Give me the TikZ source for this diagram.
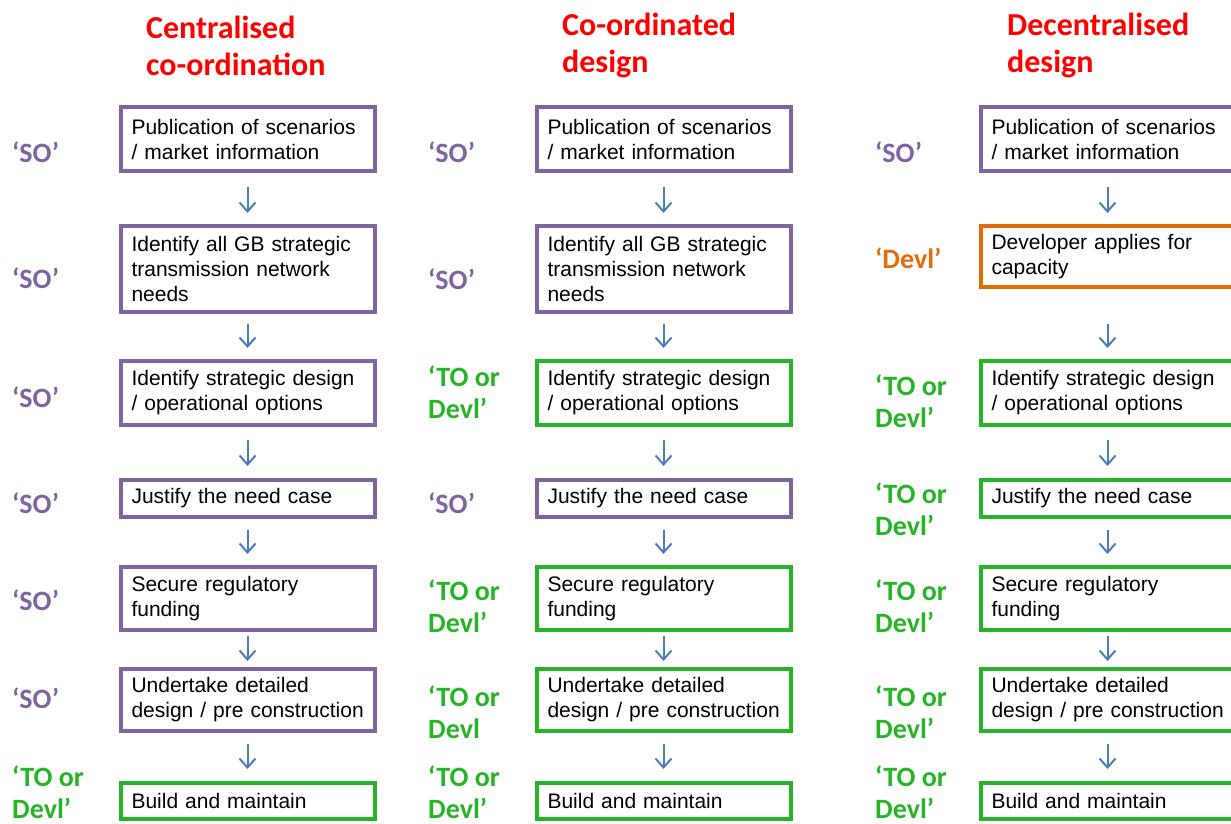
\documentclass[tikz,border=0pt]{standalone}
\usepackage{fontspec}
\setmainfont{Liberation Sans}
\newfontfamily\lblfont{Carlito}
\usetikzlibrary{arrows.meta}
\definecolor{sopurple}{HTML}{8064A2}
\definecolor{togreen}{HTML}{26B526}
\definecolor{devorange}{HTML}{E46C0A}
\definecolor{arrblue}{HTML}{4A7EBB}
\definecolor{titlered}{HTML}{FF0000}
\newcommand\flowarrow[4]{\draw[flow, shorten <=#3pt, shorten >=#4pt] (#1.south) -- (#2.north);}
\begin{document}
\begin{tikzpicture}[x=1pt,y=-1pt,
  box/.style={draw, line width=4pt, minimum width=254pt, text width=232pt, inner xsep=11pt, inner ysep=0pt, align=left, font=\fontsize{21}{25}\selectfont},
  sobox/.style={box, draw=sopurple},
  tobox/.style={box, draw=togreen},
  devbox/.style={box, draw=devorange},
  lbl/.style={anchor=west, inner sep=0pt, align=left, font=\lblfont\bfseries\fontsize{28}{32}\selectfont},
  solbl/.style={lbl, text=sopurple},
  tolbl/.style={lbl, text=togreen},
  devlbl/.style={lbl, text=devorange},
  title/.style={anchor=west, inner sep=0pt, align=left, text=titlered, font=\lblfont\bfseries\fontsize{32}{37}\selectfont},
  flow/.style={draw=arrblue, line width=2pt, -{Straight Barb[length=9pt,width=16pt]}}
]
\useasboundingbox (0,0) rectangle (1231,824);
\clip (0,0) rectangle (1231,824);

% titles
\node[title] (t1) at (146,45.5) {Centralised\\co-ordination};
\node[title] (t2) at (562,45.5) {Co-ordinated\\design};
\node[title] (t3) at (1007,45.5) {Decentralised\\design};

% column 1
\node[sobox, minimum height=64pt] (a1) at (247.5,139) {Publication of scenarios\\/ market information};
\node[sobox, minimum height=86pt] (a2) at (247.5,269) {Identify all GB strategic\\transmission network\\needs};
\node[sobox, minimum height=64pt] (a3) at (247.5,393) {Identify strategic design\\/ operational options};
\node[sobox, minimum height=37pt] (a4) at (247.5,498.5) {Justify the need case};
\node[sobox, minimum height=63pt] (a5) at (247.5,598.5) {Secure regulatory\\funding};
\node[sobox, minimum height=62pt] (a6) at (247.5,700) {Undertake detailed\\\mbox{design / pre construction}};
\node[tobox, minimum height=36pt] (a7) at (247.5,801) {Build and maintain};

% column 2
\node[sobox, minimum height=64pt] (b1) at (663.5,139) {Publication of scenarios\\/ market information};
\node[sobox, minimum height=86pt] (b2) at (663.5,269) {Identify all GB strategic\\transmission network\\needs};
\node[tobox, minimum height=64pt] (b3) at (663.5,393) {Identify strategic design\\/ operational options};
\node[sobox, minimum height=37pt] (b4) at (663.5,498.5) {Justify the need case};
\node[tobox, minimum height=63pt] (b5) at (663.5,598.5) {Secure regulatory\\funding};
\node[tobox, minimum height=62pt] (b6) at (663.5,700) {Undertake detailed\\\mbox{design / pre construction}};
\node[tobox, minimum height=36pt] (b7) at (663.5,801) {Build and maintain};

% column 3
\node[sobox, minimum height=64pt] (c1) at (1107.5,139) {Publication of scenarios\\/ market information};
\node[devbox, minimum height=61pt] (c2) at (1107.5,256.5) {Developer applies for\\capacity};
\node[tobox, minimum height=64pt] (c3) at (1107.5,393) {Identify strategic design\\/ operational options};
\node[tobox, minimum height=37pt] (c4) at (1107.5,498.5) {Justify the need case};
\node[tobox, minimum height=63pt] (c5) at (1107.5,598.5) {Secure regulatory\\funding};
\node[tobox, minimum height=62pt] (c6) at (1107.5,700) {Undertake detailed\\\mbox{design / pre construction}};
\node[tobox, minimum height=36pt] (c7) at (1107.5,801) {Build and maintain};

% labels column 1
\node[solbl] (la1) at (12,152) {‘SO’};
\node[solbl] (la2) at (12,278) {‘SO’};
\node[solbl] (la3) at (12,397) {‘SO’};
\node[solbl] (la4) at (12,503) {‘SO’};
\node[solbl] (la5) at (12,600) {‘SO’};
\node[solbl] (la6) at (12,698) {‘SO’};
\node[tolbl] (la7) at (12,792) {‘TO or\\Devl’};

% labels column 2
\node[solbl] (lb1) at (428,152) {‘SO’};
\node[solbl] (lb2) at (428,279) {‘SO’};
\node[tolbl] (lb3) at (428,392.5) {‘TO or\\Devl’};
\node[solbl] (lb4) at (428,503) {‘SO’};
\node[tolbl] (lb5) at (428,606) {‘TO or\\Devl’};
\node[tolbl] (lb6) at (428,712.5) {‘TO or\\Devl};
\node[tolbl] (lb7) at (428,792) {‘TO or\\Devl’};

% labels column 3
\node[solbl] (lc1) at (875,152) {‘SO’};
\node[devlbl] (lc2) at (875,258) {‘Devl’};
\node[tolbl] (lc3) at (875,401.5) {‘TO or\\Devl’};
\node[tolbl] (lc4) at (875,509) {‘TO or\\Devl’};
\node[tolbl] (lc5) at (875,606) {‘TO or\\Devl’};
\node[tolbl] (lc6) at (875,712.5) {‘TO or\\Devl’};
\node[tolbl] (lc7) at (875,792) {‘TO or\\Devl’};

% arrows
\foreach \c in {a,b,c}{
  \flowarrow{\c3}{\c4}{13}{12}
  \flowarrow{\c4}{\c5}{11}{11}
  \flowarrow{\c5}{\c6}{4}{6}
  \flowarrow{\c6}{\c7}{11}{12}
}
\flowarrow{a1}{a2}{14}{11}
\flowarrow{a2}{a3}{10}{11}
\flowarrow{b1}{b2}{14}{11}
\flowarrow{b2}{b3}{10}{11}
\flowarrow{c1}{c2}{14}{11}
\flowarrow{c2}{c3}{35}{11}
\end{tikzpicture}
\end{document}
